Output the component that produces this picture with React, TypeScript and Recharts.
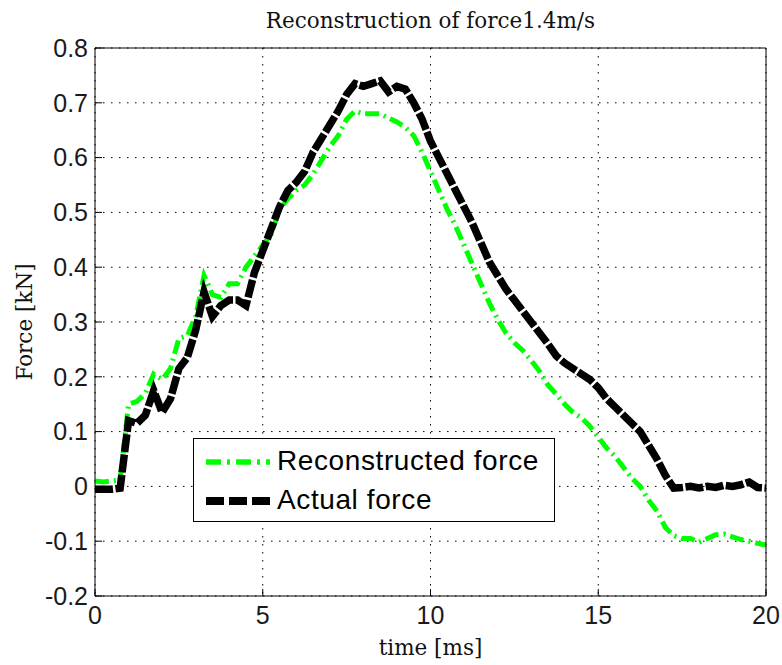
import React from "react";
import {
  LineChart, Line, XAxis, YAxis, CartesianGrid, Legend,
} from "recharts";

// time samples [ms]
const timeMs = [
  0, 0.25, 0.5, 0.75, 1, 1.25, 1.5, 1.75, 2, 2.25, 2.5, 2.75, 3, 3.25, 3.5, 3.75,
  4, 4.25, 4.5, 4.75, 5, 5.25, 5.5, 5.75, 6, 6.25, 6.5, 6.75, 7, 7.25, 7.5, 7.75,
  8, 8.25, 8.5, 8.75, 9, 9.25, 9.5, 9.75, 10, 10.25, 10.5, 10.75, 11, 11.25, 11.5, 11.75,
  12, 12.25, 12.5, 12.75, 13, 13.25, 13.5, 13.75, 14, 14.25, 14.5, 14.75, 15, 15.25, 15.5, 15.75,
  16, 16.25, 16.5, 16.75, 17, 17.25, 17.5, 17.75, 18, 18.25, 18.5, 18.75, 19, 19.25, 19.5, 19.75, 20,
];

// measured force [kN]
const actualForce = [
  -0.005, -0.005, -0.005, -0.003, 0.12, 0.115, 0.13, 0.175, 0.135, 0.16, 0.215, 0.235, 0.285, 0.355, 0.31, 0.33,
  0.34, 0.34, 0.33, 0.39, 0.43, 0.47, 0.51, 0.54, 0.555, 0.575, 0.61, 0.635, 0.66, 0.685, 0.715, 0.735,
  0.73, 0.735, 0.74, 0.72, 0.73, 0.725, 0.7, 0.67, 0.63, 0.6, 0.57, 0.54, 0.51, 0.48, 0.445, 0.41,
  0.385, 0.36, 0.34, 0.32, 0.3, 0.28, 0.26, 0.238, 0.225, 0.215, 0.205, 0.195, 0.18, 0.16, 0.145, 0.13,
  0.115, 0.1, 0.075, 0.05, 0.02, -0.003, -0.002, 0, -0.003, 0, -0.002, 0.002, 0, 0.003, 0.008, -0.002, -0.003,
];

// reconstructed force [kN]
const reconstructedForce = [
  0.01, 0.008, 0.01, 0.012, 0.15, 0.155, 0.17, 0.205, 0.195, 0.215, 0.27, 0.275, 0.31, 0.385, 0.35, 0.345,
  0.37, 0.37, 0.4, 0.42, 0.44, 0.46, 0.505, 0.525, 0.54, 0.55, 0.57, 0.595, 0.62, 0.64, 0.67, 0.685,
  0.68, 0.68, 0.68, 0.672, 0.665, 0.655, 0.64, 0.61, 0.575, 0.54, 0.505, 0.475, 0.44, 0.405, 0.37, 0.335,
  0.305, 0.28, 0.262, 0.248, 0.23, 0.21, 0.185, 0.168, 0.15, 0.135, 0.125, 0.11, 0.09, 0.07, 0.055, 0.035,
  0.015, 0, -0.025, -0.045, -0.075, -0.09, -0.095, -0.095, -0.102, -0.095, -0.088, -0.087, -0.092, -0.097, -0.1, -0.104, -0.107,
];

const xTicks = [0, 5, 10, 15, 20];
const yTicks = [-0.2, -0.1, 0, 0.1, 0.2, 0.3, 0.4, 0.5, 0.6, 0.7, 0.8];

const data = timeMs.map((t, i) => ({
  t,
  actual: actualForce[i],
  reconstructed: reconstructedForce[i],
}));

const GREEN = "#00ff00";
const SANS = "'Liberation Sans', Arial, sans-serif";
const SERIF = "'DejaVu Serif', serif";

const series = [
  { key: "reconstructed", name: "Reconstructed force", color: GREEN, width: 5, dash: "14 5 2 5" },
  { key: "actual", name: "Actual force", color: "#000", width: 7.5, dash: "18 2.5" },
];

const tickFont = { fontFamily: SANS, fontSize: 25, fill: "#1a1a1a" };
const labelFont = { fontFamily: SERIF, fontSize: 21.5, fill: "#111" };

function LegendBox() {
  return (
    <div
      style={{
        position: "relative", width: 362, height: 84, boxSizing: "border-box",
        border: "1px solid #000", background: "#fff", fontFamily: SANS, fontSize: 28,
        letterSpacing: 0.6,
      }}
    >
      {series.map((s, i) => (
        <div key={s.key} style={{ position: "absolute", left: 0, top: 4 + i * 39, height: 38, width: 360 }}>
          <svg width={80} height={38} style={{ position: "absolute", left: 0, top: 0 }}>
            <line
              x1={12} x2={76} y1={19} y2={19}
              stroke={s.color} strokeWidth={s.width + 0.5}
              strokeDasharray={i === 0 ? "15 6 3 6" : "18 5"}
            />
          </svg>
          <span style={{ position: "absolute", left: 83, top: 2, lineHeight: "32px", color: "#000" }}>
            {s.name}
          </span>
        </div>
      ))}
    </div>
  );
}

export default function App() {
  return (
    <div style={{ width: 782, height: 665, background: "#fff" }}>
      <style>{"body{margin:0}"}</style>
      <LineChart
        width={782}
        height={665}
        data={data}
        margin={{ top: 47, right: 15, bottom: 0, left: 0 }}
      >
        <CartesianGrid stroke="#000" strokeWidth={1} strokeDasharray="1.5 6.5" />
        <XAxis
          dataKey="t"
          type="number"
          domain={[0, 20]}
          ticks={xTicks}
          height={69}
          stroke="#000"
          tickSize={-7}
          tickMargin={17}
          tick={tickFont}
          label={{ value: "time [ms]", position: "insideBottom", offset: 10, style: labelFont }}
        />
        <XAxis
          xAxisId="top"
          dataKey="t"
          orientation="top"
          type="number"
          domain={[0, 20]}
          ticks={xTicks}
          height={1}
          stroke="#000"
          tickSize={-7}
          tick={false}
          label={{ value: "Reconstruction of force1.4m/s", position: "top", offset: 19, style: labelFont }}
        />
        <YAxis
          type="number"
          domain={[-0.2, 0.8]}
          ticks={yTicks}
          width={95}
          stroke="#000"
          tickSize={-7}
          tickMargin={14}
          tick={tickFont}
          tickFormatter={(v: number) => String(v)}
          label={{
            value: "Force [kN]", angle: -90, position: "insideLeft", offset: 24,
            style: { ...labelFont, textAnchor: "middle" },
          }}
        />
        <YAxis
          yAxisId="right"
          orientation="right"
          type="number"
          domain={[-0.2, 0.8]}
          ticks={yTicks}
          width={1}
          stroke="#000"
          tickSize={-7}
          tick={false}
        />
        {series.map((s) => (
          <Line
            key={s.key}
            type="linear"
            dataKey={s.key}
            name={s.name}
            stroke={s.color}
            strokeWidth={s.width}
            strokeDasharray={s.dash}
            dot={false}
            activeDot={false}
            isAnimationActive={false}
          />
        ))}
        {/* invisible series bound to the top/right axes so the box frame gets drawn */}
        <Line
          xAxisId="top"
          yAxisId="right"
          dataKey="actual"
          stroke="none"
          dot={false}
          activeDot={false}
          legendType="none"
          isAnimationActive={false}
        />
        <Legend
          layout="horizontal"
          verticalAlign="middle"
          align="center"
          content={() => <LegendBox />}
          wrapperStyle={{ position: "absolute", left: 193, top: 438, width: 362, height: 84 }}
        />
      </LineChart>
    </div>
  );
}
